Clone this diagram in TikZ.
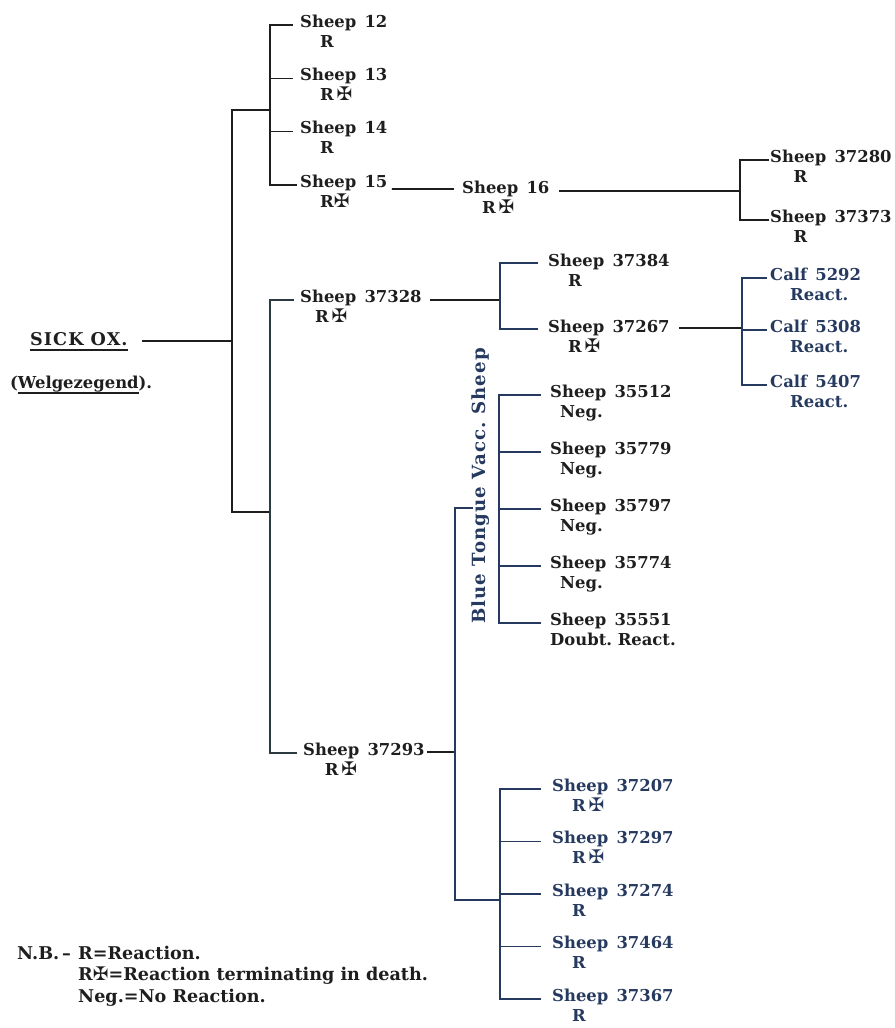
\documentclass[tikz,border=0pt]{standalone}
\usepackage{fontspec}
\usetikzlibrary{positioning}
\setmainfont{DejaVu Serif}
\newfontfamily\widefont[LetterSpace=6]{DejaVu Serif}
\newfontfamily\crossfont{DejaVu Sans}
\newcommand{\died}{{\normalfont\crossfont\fontsize{16}{17}\selectfont ✠}}
\newcommand{\ind}{\hspace*{0.6cm}}
\newcommand{\ulined}[1]{\setbox0\hbox{#1}\rlap{\rule[-0.18cm]{\wd0}{0.055cm}}\box0}
\definecolor{ink}{RGB}{30,30,30}
\definecolor{navy}{RGB}{38,58,96}
\definecolor{slate}{RGB}{42,58,64}

\tikzset{
  animal/.style={anchor=base west, align=left, inner sep=0pt, text=ink,
    font=\fontsize{14}{17}\selectfont\bfseries},
  sib/.style={below=#1, anchor=base west},
  link/.style={draw=ink, line width=1.4pt, line cap=rect},
}

\begin{document}
\begin{tikzpicture}[x=0.03cm, y=-0.03cm]
  \useasboundingbox (0,0) rectangle (895,1028);
  % the ox
  \node[animal, font=\widefont\fontsize{15}{17}\selectfont\bfseries] (ox) at (30,345) {\ulined{SICK OX.}};
  \node[animal] (farm) at (10,388) {(\ulined{Welgezegend}).};
  % junctions
  \coordinate (t1) at (232,341);
  \coordinate (f1) at (270,110);
  \coordinate (f2) at (270,512);
  \coordinate (f3) at (500,300);
  \coordinate (f4) at (742,328);
  \coordinate (f5) at (740,191);
  \coordinate (f6) at (455,752);
  \coordinate (f7) at (500,900);
  \coordinate (f8) at (499,510);
  \coordinate (tick) at (472,508);
  % first sheep
  \node[animal] (s12) at (300,47) {Sheep\enspace 12\\\ind R};
  \node[animal, sib=1.6cm of s12.base west] (s13) {Sheep\enspace 13\\\ind R\,\died};
  \node[animal, sib=1.6cm of s13.base west] (s14) {Sheep\enspace 14\\\ind R};
  \node[animal, sib=1.6cm of s14.base west] (s15) {Sheep\enspace 15\\\ind R\died};
  \node[animal] (s16) at (462,213) {Sheep\enspace 16\\\ind R\,\died};
  \node[animal] (s37280) at (770,182) {Sheep\enspace 37280\\\hspace*{0.7cm}R};
  \node[animal, sib=1.8cm of s37280.base west] (s37373) {Sheep\enspace 37373\\\hspace*{0.7cm}R};
  % second line
  \node[animal] (s37328) at (300,322) {Sheep\enspace 37328\\\hspace*{0.45cm}R\,\died};
  \node[animal] (s37384) at (548,286) {Sheep\enspace 37384\\\ind R};
  \node[animal, sib=1.98cm of s37384.base west] (s37267) {Sheep\enspace 37267\\\ind R\,\died};
  \node[animal, text=navy] (c5292) at (770,300) {Calf\enspace 5292\\\ind React.};
  \node[animal, text=navy, sib=1.56cm of c5292.base west] (c5308) {Calf\enspace 5308\\\ind React.};
  \node[animal, text=navy, sib=1.65cm of c5308.base west] (c5407) {Calf\enspace 5407\\\ind React.};
  % blue tongue
  \node[font=\widefont\fontsize{15.5}{17}\selectfont\bfseries, text=navy, rotate=90, inner sep=0pt] (bt) at (481,486) {Blue Tongue Vacc.\ Sheep};
  \node[animal] (s35512) at (550,417) {Sheep\enspace 35512\\\hspace*{0.3cm}Neg.};
  \node[animal, sib=1.71cm of s35512.base west] (s35779) {Sheep\enspace 35779\\\hspace*{0.3cm}Neg.};
  \node[animal, sib=1.71cm of s35779.base west] (s35797) {Sheep\enspace 35797\\\hspace*{0.3cm}Neg.};
  \node[animal, sib=1.71cm of s35797.base west] (s35774) {Sheep\enspace 35774\\\hspace*{0.3cm}Neg.};
  \node[animal, sib=1.71cm of s35774.base west] (s35551) {Sheep\enspace 35551\\Doubt.\ React.};
  % third line
  \node[animal] (s37293) at (303,775) {Sheep\enspace 37293\\\hspace*{0.65cm}R\,\died};
  \node[animal, text=navy] (s37207) at (552,811) {Sheep\enspace 37207\\\ind R\,\died};
  \node[animal, text=navy, sib=1.575cm of s37207.base west] (s37297) {Sheep\enspace 37297\\\ind R\,\died};
  \node[animal, text=navy, sib=1.575cm of s37297.base west] (s37274) {Sheep\enspace 37274\\\ind R};
  \node[animal, text=navy, sib=1.575cm of s37274.base west] (s37464) {Sheep\enspace 37464\\\ind R};
  \node[animal, text=navy, sib=1.575cm of s37464.base west] (s37367) {Sheep\enspace 37367\\\ind R};
  % key
  \node[animal, font=\fontsize{15}{18.3}\selectfont\bfseries] (nb) at (17,959) {N.B.\,--};
  \node[animal, font=\fontsize{15}{18.3}\selectfont\bfseries] (key) at (78,1002) {R=Reaction.\\R\died=Reaction terminating in death.\\Neg.=No Reaction.};

  % trunk
  \draw[link] ([xshift=0.45cm]t1 -| ox.east) -- (t1);
  \draw[link] (f1) -| (t1);
  \draw[link] (f2) -| (t1);
  % first fork
  \draw[link] (f1) |- ([xshift=-0.24cm,yshift=0.66cm]s12.base west);
  \draw[link] (f1) |- ([xshift=-0.24cm,yshift=0.66cm]s13.base west);
  \draw[link] (f1) |- ([xshift=-0.24cm,yshift=0.66cm]s14.base west);
  \draw[link] (f1) |- ([xshift=-0.12cm,yshift=0.66cm]s15.base west);
  \draw[link] ([xshift=0.15cm,yshift=0.54cm]s15.base east) -- ([xshift=-0.27cm,yshift=0.72cm]s16.base west);
  \draw[link] ([xshift=0.3cm]f5 -| s16.east) -- (f5);
  \draw[link] (f5) |- ([xshift=-0.06cm,yshift=0.66cm]s37280.base west);
  \draw[link] (f5) |- ([xshift=-0.06cm,yshift=0.66cm]s37373.base west);
  % second fork
  \draw[link, draw=slate] (f2) |- ([xshift=-0.2cm,yshift=0.66cm]s37328.base west);
  \draw[link, draw=slate] (f2) |- ([xshift=-0.2cm,yshift=0.66cm]s37293.base west);
  \draw[link] ([xshift=0.27cm]f3 -| s37328.east) -- (f3);
  \draw[link, draw=navy] (f3) |- ([xshift=-0.33cm,yshift=0.69cm]s37384.base west);
  \draw[link, draw=navy] (f3) |- ([xshift=-0.33cm,yshift=0.69cm]s37267.base west);
  \draw[link] ([xshift=0.3cm]f4 -| s37267.east) -- (f4);
  \draw[link, draw=navy] (f4) |- ([xshift=-0.1cm,yshift=0.66cm]c5292.base west);
  \draw[link, draw=navy] (f4) |- ([xshift=-0.1cm,yshift=0.66cm]c5308.base west);
  \draw[link, draw=navy] (f4) |- ([xshift=-0.1cm,yshift=0.66cm]c5407.base west);
  % third fork
  \draw[link] ([xshift=0.1cm]f6 -| s37293.east) -- (f6);
  \draw[link, draw=navy] (f6) |- (tick);
  \draw[link, draw=navy] (f6) |- (f7);
  \draw[link, draw=navy] (f8) |- ([xshift=-0.3cm,yshift=0.66cm]s35512.base west);
  \draw[link, draw=navy] (f8) |- ([xshift=-0.3cm,yshift=0.66cm]s35779.base west);
  \draw[link, draw=navy] (f8) |- ([xshift=-0.3cm,yshift=0.66cm]s35797.base west);
  \draw[link, draw=navy] (f8) |- ([xshift=-0.3cm,yshift=0.66cm]s35774.base west);
  \draw[link, draw=navy] (f8) |- ([xshift=-0.3cm,yshift=0.66cm]s35551.base west);
  \draw[link, draw=navy] (f7) |- ([xshift=-0.36cm,yshift=0.66cm]s37207.base west);
  \draw[link, draw=navy] (f7) |- ([xshift=-0.36cm,yshift=0.66cm]s37297.base west);
  \draw[link, draw=navy] (f7) |- ([xshift=-0.36cm,yshift=0.66cm]s37274.base west);
  \draw[link, draw=navy] (f7) |- ([xshift=-0.36cm,yshift=0.66cm]s37464.base west);
  \draw[link, draw=navy] (f7) |- ([xshift=-0.36cm,yshift=0.66cm]s37367.base west);
\end{tikzpicture}
\end{document}
